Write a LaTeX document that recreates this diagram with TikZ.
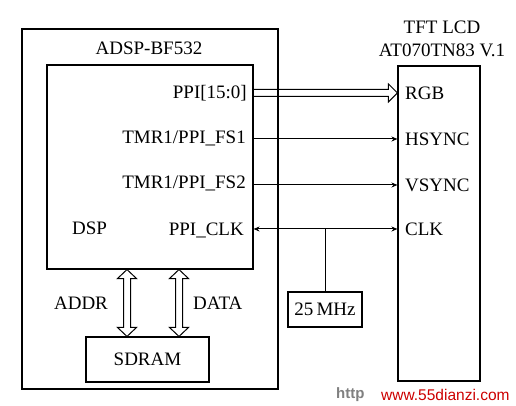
\documentclass[tikz,border=0pt]{standalone}
\usepackage{fontspec}
\setmainfont{Liberation Serif}
\newfontfamily\wmfont{Liberation Sans}
\usetikzlibrary{calc,arrows.meta}
\begin{document}
\begin{tikzpicture}[x=1pt,y=1pt,
  every node/.style={font=\fontsize{19}{21}\selectfont, inner sep=0pt},
  box/.style={draw, line width=1.1pt, minimum width=#1},
  sig/.style={line width=1pt, -{Stealth[length=6pt,width=5pt]}},
  bisig/.style={line width=1pt, {Stealth[length=6pt,width=5pt]}-{Stealth[length=6pt,width=5pt]}},
  hollow/.style={line width=1pt, line join=miter}]
\useasboundingbox (0,0) rectangle (516,406);
% boxes
\node[box=256pt, minimum height=360pt] (outer) at (150,197) {};
\node[box=206pt, minimum height=204pt] (dsp) at (150,239) {};
\node[box=82pt, minimum height=315pt] (lcd) at (439,182.5) {};
\node[box=123pt, minimum height=45pt] (sdram) at (147.5,46.5) {SDRAM};
\node[box=74pt, minimum height=35pt] (osc) at (325,96.5) {25\,MHz};
% titles
\node (t1) at (149,358) {ADSP-BF532};
\node (t2) at (442,379) {TFT LCD};
\node (t3) at (442,356) {AT070TN83 V.1};
% DSP side labels
\node[anchor=east] (ppi) at (247,313) {PPI[15:0]};
\node[anchor=east] (fs1) at (246,268) {TMR1/PPI\_FS1};
\node[anchor=east] (fs2) at (246,223) {TMR1/PPI\_FS2};
\node[anchor=east] (pclk) at (244,176) {PPI\_CLK};
\node[anchor=west] (dsplbl) at (72,178) {DSP};
% LCD side labels
\node[anchor=west] (rgb) at (405,313) {RGB};
\node[anchor=west] (hs) at (405,267) {HSYNC};
\node[anchor=west] (vs) at (405,221) {VSYNC};
\node[anchor=west] (clk) at (405,177) {CLK};
% bus labels
\node (addr) at (81,103) {ADDR};
\node[anchor=west] (data) at (193,103) {DATA};
% watermark
\node[anchor=west, font=\wmfont\fontsize{15}{17}\selectfont\bfseries, text=gray] (wm1) at (336,11) {http};
\node[anchor=west, font=\wmfont\fontsize{15.5}{17}\selectfont, text=red!80!black] (wm2) at (381,11) {www.55dianzi.com};
% signals
\draw[sig] (dsp.east |- hs) -- (lcd.west |- hs);
\draw[sig] (dsp.east |- vs) -- (lcd.west |- vs);
\draw[bisig] (dsp.east |- clk) -- (lcd.west |- clk);
\coordinate (tap) at (osc.north |- clk);
\draw[line width=1pt] (osc.north) -- (tap);
% hollow bus arrow PPI -> RGB
\draw[hollow] let \p1=(dsp.east |- rgb), \p2=(lcd.west |- rgb) in
  (\x1,\y1+3.5pt) -- (\x2-9pt,\y1+3.5pt) -- (\x2-9pt,\y1+9pt) -- (\x2,\y1)
  -- (\x2-9pt,\y1-9pt) -- (\x2-9pt,\y1-3.5pt) -- (\x1,\y1-3.5pt);
% hollow double-headed bus arrows to SDRAM
\foreach \dx in {-23,29}{
  \draw[hollow] let \p1=($(dsp.south)+(\dx,0)$), \p2=(sdram.north -| \p1) in
    (\x1-3.5pt,\y1-9pt) -- (\x1-9.5pt,\y1-9pt) -- (\x1,\y1) -- (\x1+9.5pt,\y1-9pt)
    -- (\x1+3.5pt,\y1-9pt) -- (\x1+3.5pt,\y2+9pt) -- (\x1+9.5pt,\y2+9pt) -- (\x1,\y2)
    -- (\x1-9.5pt,\y2+9pt) -- (\x1-3.5pt,\y2+9pt) -- cycle;
}
\end{tikzpicture}
\end{document}
